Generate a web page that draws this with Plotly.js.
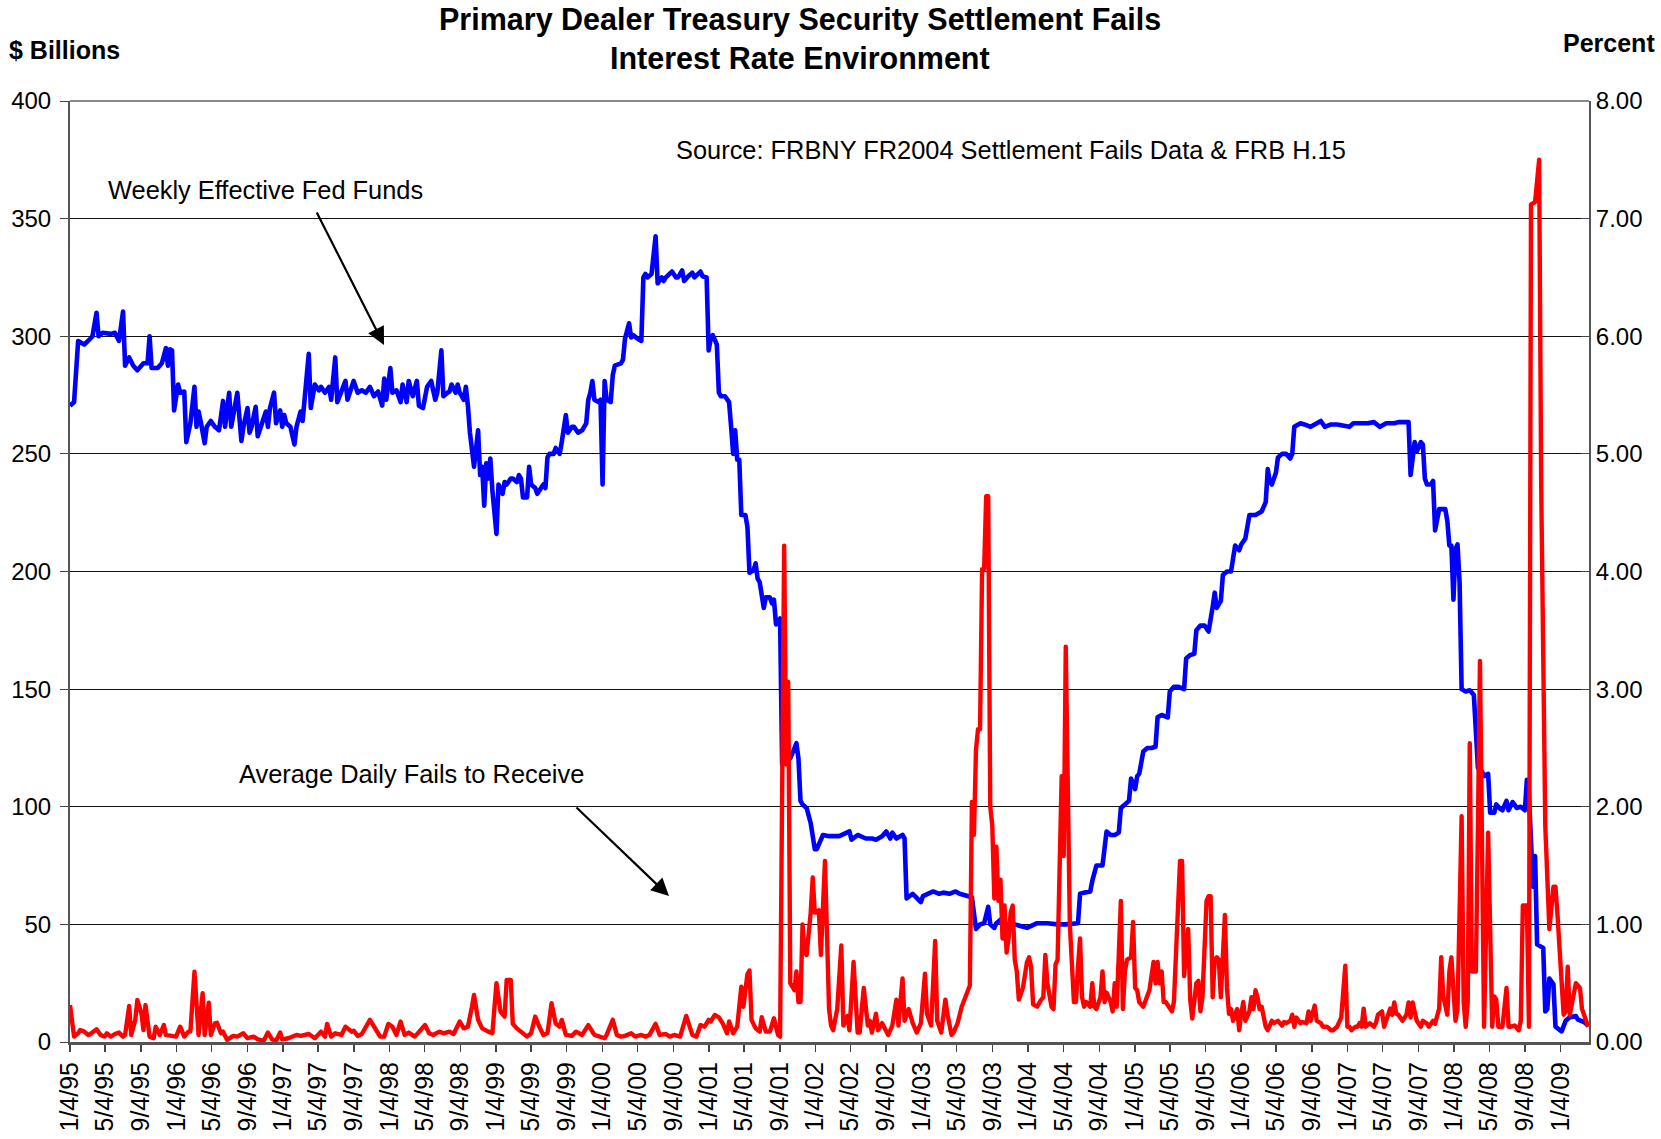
<!DOCTYPE html>
<html><head><meta charset="utf-8">
<script src="https://cdn.plot.ly/plotly-3.0.1.min.js"></script>
<style>html,body{margin:0;padding:0;background:#fff}#chart{width:1661px;height:1139px}
path.js-line{stroke-linejoin:round !important;}</style>
</head><body><div id="chart"></div>
<script>
// Weekly data, week index counted from the first observation (Wednesday 1/4/95)
const startDate = '1995-01-04';
const endDate = '2009-04-11';

// Average Daily Fails to Receive ($ Billions) - left axis
const failsWeeks = [
0,2,4,5,7,9,10,13,15,17,18,20,22,24,26,27,29,30,32,33,
35,36,37,39,41,42,44,46,47,50,52,54,56,58,59,61,63,65,66,68,
69,71,72,74,75,77,80,82,85,87,90,92,95,97,99,101,103,104,107,111,
113,117,120,123,125,126,128,130,133,135,138,139,141,143,145,147,149,152,154,156,
158,160,162,164,166,169,174,176,178,181,183,186,188,191,193,195,197,198,200,202,
205,207,209,211,213,214,216,217,219,222,224,226,228,230,232,234,236,238,240,241,
243,246,248,251,254,257,259,262,263,266,268,270,272,275,277,280,282,284,287,289,
292,294,296,299,302,305,307,309,311,313,314,316,318,320,322,323,325,327,329,330,
332,333,334,336,338,339,341,343,345,347,348,350,351,352,353,355,356,357,358,359,
360,361,363,364,365,366,367,368,370,371,372,373,374,376,378,379,381,382,384,386,
387,389,391,392,393,395,396,398,400,401,403,405,406,408,409,411,413,415,417,419,
420,422,424,425,427,429,430,432,433,435,437,439,441,442,443,444,445,446,447,448,
449,450,451,452,453,454,455,456,457,458,459,460,461,462,463,464,465,467,469,470,
471,472,474,476,477,478,479,481,482,483,484,486,487,488,489,490,492,493,494,495,
496,497,498,500,501,502,503,505,506,507,508,510,511,512,513,515,516,517,518,520,
521,522,523,524,526,528,529,531,532,533,534,535,536,537,539,540,541,543,544,545,
546,548,549,550,552,553,554,555,557,558,559,560,561,562,563,564,566,567,568,569,
570,572,573,574,575,576,578,579,580,581,582,583,584,586,587,589,590,592,594,595,
596,598,599,600,601,603,604,606,607,608,610,611,613,614,616,618,619,621,622,623,
625,626,627,628,630,631,632,633,634,635,637,639,640,641,643,644,645,647,648,649,
650,651,653,655,656,657,658,660,662,663,665,666,668,669,671,672,673,675,676,677,
678,679,680,682,683,684,685,686,687,689,690,691,693,695,697,698,699,700,702,704,
705,706,708,710,711,712,714,715,716,718,720,721,723,724,725,727,728,729,731,732,
733,734,735,737,738,740,741,742,744];
const failsBillions = [
15.7,2.3,3.7,5.1,4.4,3.0,3.4,5.4,3.0,2.3,3.7,2.3,3.4,4.0,2.3,3.0,15.3,3.0,9.4,17.9,
12.2,5.1,15.7,2.3,1.6,6.5,3.0,7.2,3.0,2.3,2.3,6.5,2.3,4.4,4.4,29.9,3.0,20.7,3.0,16.7,
3.0,7.9,8.2,3.7,4.4,0.9,2.6,2.3,3.7,1.6,2.3,1.1,0.6,4.0,1.1,0.5,4.0,1.1,1.6,3.0,
2.6,3.4,1.6,4.4,2.3,7.7,2.3,3.7,3.0,6.5,4.4,4.8,2.6,3.4,6.5,9.4,6.5,2.3,2.3,7.7,
6.5,3.0,8.7,3.0,4.0,2.3,7.2,3.7,3.0,4.4,3.7,4.4,3.4,8.7,5.8,6.5,15.0,20.0,9.4,5.8,
4.4,3.7,25.0,12.9,10.8,26.4,26.4,7.7,5.8,3.4,2.3,3.7,10.8,6.5,3.0,3.7,16.5,7.9,6.5,9.4,
3.0,2.6,4.4,3.0,7.2,3.0,2.3,1.6,3.0,9.4,3.0,2.3,2.6,3.7,2.3,3.0,2.3,3.0,7.7,3.0,
3.4,2.3,3.0,2.3,11.1,3.0,2.3,7.2,6.5,9.4,8.7,11.5,10.5,7.7,3.7,8.7,3.7,6.5,23.5,15.0,
28.9,30.4,9.4,5.8,4.4,10.5,4.4,4.4,10.1,3.0,2.3,211,118,153,25,22,30,17,17,50,
38,37,55,70,55,55,56,37,77,40,14,7,5,14,41,7,11,5,34,4,
4,23,7,9,4,12,5,8,4,3,7,18,7,27,9,14,8,4,8,29,
12,7,43,9,4,18,12,3,4,8,15,20,24,102,88,124,133,133,201,201,
232,232,100,92,61,83,60,69,44,58,38,44,55,58,35,30,18,23,34,36,
32,16,15,18,19,37,25,15,14,33,35,113,79,168,115,50,17,17,32,44,
19,15,17,15,25,15,14,19,30,17,21,17,13,25,15,60,14,30,35,36,
51,23,22,17,15,19,22,34,25,34,25,30,17,17,14,13,17,63,77,77,
28,48,18,10,25,26,13,19,60,62,62,19,35,36,35,19,54,23,12,14,
9,14,5,12,17,9,13,19,14,22,19,14,15,6.5,5,9,8,9,7,8.5,
8,9,11.6,6.5,10.4,8,8.5,8,13,9,15.5,9,8,6.5,6.5,5,5,6.5,8,10.4,
32.4,6.5,6.5,5,6.5,6.5,8,6.5,14.2,6.5,8,6.5,8,11.6,13,6.5,9,14.2,11.6,16.8,
12,11.6,9,11.6,16.8,10.4,16.8,9,6.5,9,7.8,6.5,9,7.8,14.2,36,19.4,11.6,30,36,
22,9,14,96,17,6.5,17,127,30,30,92,162,6.5,89,6.5,19.4,18,6.5,6.5,23,
6.5,6.5,7,5,9,58,58,6.5,356,357,375,237,92,71,48,66,66,54,25,11.6,
13,32,11.6,22,25,23,14,11.6,6.5];

// Weekly Effective Fed Funds (Percent) - right axis
const fedWeeks = [
0,2,4,7,10,11,13,14,16,20,22,24,26,27,29,31,33,36,38,39,
40,43,45,47,48,49,50,51,53,54,56,57,59,61,62,63,64,66,67,69,
71,73,74,75,76,78,79,82,84,85,87,88,89,91,92,94,96,97,98,100,
101,103,104,105,106,108,110,111,113,114,117,118,120,122,123,125,127,128,130,131,
133,135,136,139,141,143,145,147,149,151,153,154,155,157,158,160,162,163,165,166,
168,170,171,173,175,177,179,180,182,183,185,186,187,189,190,191,193,194,195,196,
198,199,200,201,202,203,204,205,206,207,208,209,210,212,213,214,216,217,219,220,
221,222,224,225,226,228,229,230,232,233,234,235,237,238,240,241,243,244,246,247,
249,251,253,254,255,256,257,259,260,261,262,263,265,266,267,270,271,272,274,275,
276,278,280,281,282,283,285,287,288,290,291,292,294,295,297,298,300,301,303,305,
306,308,309,310,312,313,314,315,317,318,319,321,323,324,325,326,327,328,329,331,
332,333,335,336,337,338,340,341,343,344,345,346,348,349,351,353,355,356,357,358,
359,361,363,365,366,368,369,372,377,382,383,386,388,390,393,395,398,400,402,403,
405,408,409,410,413,415,417,418,421,423,426,428,431,434,436,440,442,444,446,448,
450,451,453,454,456,458,461,463,469,474,479,484,488,494,495,497,500,501,503,506,
507,508,510,512,514,515,517,519,520,522,523,524,526,528,530,532,533,535,538,539,
541,543,546,547,549,551,552,554,556,558,560,561,562,564,565,567,569,571,573,574,
576,577,578,581,584,586,587,588,589,591,592,594,596,598,599,600,603,605,608,610,
613,615,618,621,623,627,629,632,636,639,642,645,649,651,654,656,657,659,660,662,
663,664,665,667,668,669,671,672,674,675,676,677,678,679,680,681,682,684,686,688,
689,690,692,693,695,696,698,699,701,702,704,705,707,709,711,712,713,714,715,717,
718,719,722,723,724,725,727,728,729,731,733,735,738,739,742,744];
const fedPercent = [
5.41,5.44,5.96,5.93,5.98,6.00,6.20,6.00,6.03,6.02,6.03,5.96,6.21,5.75,5.82,5.75,5.71,5.77,5.77,6.00,
5.73,5.73,5.77,5.90,5.75,5.89,5.88,5.37,5.59,5.52,5.53,5.10,5.26,5.57,5.23,5.36,5.28,5.09,5.23,5.28,
5.23,5.20,5.32,5.45,5.23,5.52,5.23,5.52,5.11,5.23,5.39,5.18,5.23,5.40,5.15,5.26,5.36,5.23,5.39,5.52,
5.26,5.37,5.23,5.33,5.26,5.23,5.08,5.23,5.36,5.28,5.85,5.39,5.59,5.54,5.57,5.52,5.57,5.46,5.82,5.44,
5.52,5.62,5.46,5.62,5.52,5.54,5.52,5.57,5.49,5.53,5.41,5.64,5.46,5.73,5.52,5.54,5.44,5.59,5.44,5.62,
5.49,5.62,5.41,5.39,5.57,5.62,5.46,5.52,5.88,5.49,5.52,5.53,5.59,5.52,5.59,5.52,5.46,5.57,5.41,5.18,
4.89,5.05,5.20,4.82,4.89,4.56,4.92,4.79,4.96,4.69,4.48,4.32,4.74,4.66,4.76,4.74,4.79,4.79,4.76,4.82,
4.79,4.63,4.63,4.89,4.74,4.71,4.66,4.69,4.74,4.71,4.97,5.00,5.00,5.05,5.00,5.10,5.33,5.18,5.23,5.23,
5.18,5.20,5.26,5.46,5.52,5.62,5.46,5.44,5.46,4.74,5.62,5.46,5.44,5.67,5.75,5.77,5.80,5.98,6.11,5.99,
6.01,5.98,5.96,6.50,6.53,6.50,6.53,6.85,6.45,6.50,6.47,6.50,6.53,6.55,6.50,6.50,6.56,6.47,6.51,6.54,
6.50,6.54,6.55,6.51,6.50,5.88,5.98,6.01,5.93,5.52,5.49,5.49,5.44,5.23,5.00,5.20,4.95,4.95,4.48,4.48,
4.38,3.99,4.01,4.07,3.94,3.91,3.69,3.78,3.78,3.73,3.76,3.55,3.60,2.36,2.41,2.41,2.49,2.54,2.41,2.05,
2.02,1.99,1.86,1.64,1.64,1.73,1.76,1.75,1.75,1.79,1.72,1.76,1.75,1.73,1.73,1.72,1.75,1.79,1.73,1.78,
1.73,1.76,1.73,1.22,1.26,1.23,1.19,1.24,1.26,1.28,1.26,1.27,1.26,1.28,1.26,1.24,1.23,0.96,1.00,1.01,
1.15,1.00,0.97,1.01,1.04,0.98,1.01,1.00,0.97,1.01,1.01,1.00,1.00,1.01,1.26,1.27,1.28,1.37,1.50,1.50,
1.63,1.79,1.76,1.76,1.78,1.99,2.02,2.05,2.24,2.15,2.26,2.28,2.47,2.50,2.50,2.51,2.76,2.78,2.76,2.98,
3.02,3.02,3.00,3.26,3.29,3.30,3.50,3.54,3.54,3.49,3.70,3.82,3.69,3.75,3.97,4.00,4.00,4.22,4.18,4.23,
4.28,4.40,4.48,4.48,4.51,4.59,4.87,4.76,4.74,4.84,4.97,5.00,5.00,4.96,5.00,5.23,5.26,5.25,5.23,5.25,
5.28,5.23,5.25,5.25,5.24,5.23,5.26,5.26,5.26,5.27,5.23,5.26,5.26,5.27,5.27,5.27,4.82,5.10,5.02,5.10,
5.08,4.79,4.74,4.74,4.77,4.35,4.53,4.53,4.53,4.43,4.22,4.22,3.76,4.19,4.23,3.91,3.00,2.98,2.99,2.95,
2.62,2.33,2.30,2.26,2.28,1.95,1.95,2.02,1.98,1.97,2.05,1.97,2.04,1.99,2.00,1.99,1.97,2.23,2.10,1.32,
1.58,0.83,0.80,0.26,0.28,0.54,0.49,0.13,0.12,0.09,0.18,0.21,0.22,0.19,0.17,0.14];

const chartTitle = ['Primary Dealer Treasury Security Settlement Fails', 'Interest Rate Environment'];
const leftAxisTitle = '$ Billions';
const rightAxisTitle = 'Percent';
const fedLabel = 'Weekly Effective Fed Funds';
const failsLabel = 'Average Daily Fails to Receive';
const sourceNote = 'Source: FRBNY FR2004 Settlement Fails Data & FRB H.15';

if (failsWeeks.length !== failsBillions.length) console.error('fails mismatch', failsWeeks.length, failsBillions.length);
if (fedWeeks.length !== fedPercent.length) console.error('fed mismatch', fedWeeks.length, fedPercent.length);

const t0 = Date.parse(startDate + 'T00:00:00Z');
const toDate = w => new Date(t0 + w * 7 * 86400000).toISOString().slice(0, 10);

// page geometry helpers (plot area in pixels)
const M = {l: 70, r: 72, t: 101, b: 97};
const W = 1661, H = 1139;
const PW = W - M.l - M.r, PH = H - M.t - M.b;
const px = x => (x - M.l) / PW;
const py = y => (H - M.b - y) / PH;

const FONT = 'Liberation Sans, Arial, sans-serif';

const traces = [
  {x: fedWeeks.map(toDate), y: fedPercent, type: 'scatter', mode: 'lines', yaxis: 'y',
   line: {color: '#0000FF', width: 4.6}, hoverinfo: 'skip'},
  {x: failsWeeks.map(toDate), y: failsBillions, type: 'scatter', mode: 'lines', yaxis: 'y2',
   line: {color: '#FF0000', width: 4.4}, hoverinfo: 'skip'}
];

const tickFont = {family: FONT, size: 24, color: '#000'};

const layout = {
  width: W, height: H, margin: M,
  paper_bgcolor: '#fff', plot_bgcolor: '#fff', showlegend: false,
  font: {family: FONT, color: '#000'},
  xaxis: {type: 'date', range: [startDate, endDate], tick0: startDate, dtick: 'M4',
    tickformat: '%-m/%-d/%y', tickangle: -90, ticks: 'outside', ticklen: 7, tickwidth: 1.5,
    tickcolor: '#444', showgrid: false, zeroline: false, showline: true, linecolor: '#555',
    linewidth: 3, tickfont: {family: FONT, size: 25, color: '#000'}},
  yaxis: {side: 'right', range: [0, 8], dtick: 1, tick0: 0, tickformat: '.2f', ticks: 'inside',
    ticklen: 8, tickcolor: '#444', showgrid: false, zeroline: false, showline: true,
    linecolor: '#555', linewidth: 2, tickfont: tickFont, fixedrange: true},
  yaxis2: {overlaying: 'y', side: 'left', range: [0, 400], dtick: 50, tick0: 0, ticks: 'outside',
    ticklen: 8, tickcolor: '#444', showgrid: true, gridcolor: '#111', gridwidth: 1,
    zeroline: false, showline: true, linecolor: '#555', linewidth: 2, tickfont: tickFont,
    ticklabelstandoff: 4},
  shapes: [
    {type: 'line', xref: 'paper', yref: 'paper', x0: 0, x1: 1, y0: 1, y1: 1,
     line: {color: '#888', width: 2}}
  ],
  annotations: [
    {text: '<b>' + chartTitle[0] + '</b>', xref: 'paper', yref: 'paper', x: px(800), y: py(20),
     xanchor: 'center', yanchor: 'middle', showarrow: false, font: {family: FONT, size: 30.5}},
    {text: '<b>' + chartTitle[1] + '</b>', xref: 'paper', yref: 'paper', x: px(800), y: py(58),
     xanchor: 'center', yanchor: 'middle', showarrow: false, font: {family: FONT, size: 30.5}},
    {text: '<b>' + leftAxisTitle + '</b>', xref: 'paper', yref: 'paper', x: px(7), y: py(50),
     xanchor: 'left', yanchor: 'middle', showarrow: false, font: {family: FONT, size: 25}},
    {text: '<b>' + rightAxisTitle + '</b>', xref: 'paper', yref: 'paper', x: px(1657), y: py(43),
     xanchor: 'right', yanchor: 'middle', showarrow: false, font: {family: FONT, size: 25}},
    {text: fedLabel, xref: 'paper', yref: 'paper', x: px(106), y: py(190),
     xanchor: 'left', yanchor: 'middle', showarrow: false, font: {family: FONT, size: 25.4}},
    {text: failsLabel, xref: 'paper', yref: 'paper', x: px(237), y: py(774),
     xanchor: 'left', yanchor: 'middle', showarrow: false, font: {family: FONT, size: 25.4}},
    {text: sourceNote, xref: 'paper', yref: 'paper', x: px(674), y: py(150),
     xanchor: 'left', yanchor: 'middle', showarrow: false, font: {family: FONT, size: 25.4}},
    {text: '', xref: 'paper', yref: 'paper', x: px(384), y: py(345), ax: -68, ay: -134,
     showarrow: true, arrowhead: 2, arrowsize: 1.6, arrowwidth: 2.2, arrowcolor: '#000'},
    {text: '', xref: 'paper', yref: 'paper', x: px(669), y: py(896), ax: -94, ay: -90,
     showarrow: true, arrowhead: 2, arrowsize: 1.6, arrowwidth: 2.2, arrowcolor: '#000'}
  ]
};

Plotly.newPlot('chart', traces, layout, {displayModeBar: false, staticPlot: true});
</script>
</body></html>
